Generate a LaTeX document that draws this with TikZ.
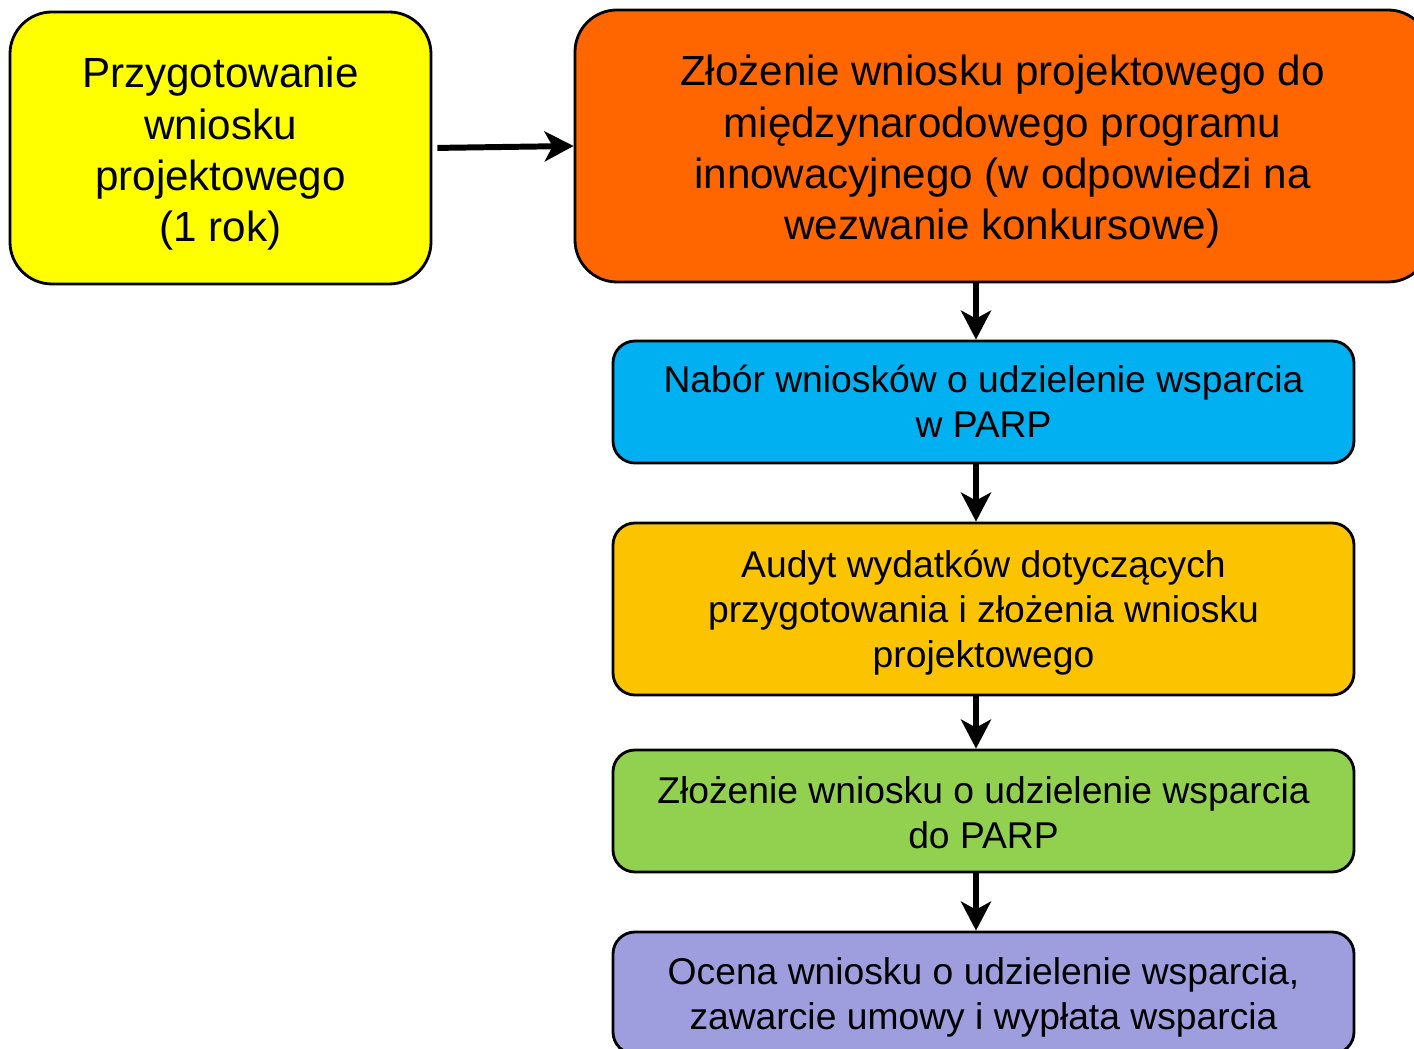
\documentclass[tikz,border=0pt]{standalone}
\usepackage{fontspec}
\setmainfont{Liberation Sans}
\usetikzlibrary{arrows.meta}
\definecolor{cyellow}{HTML}{FFFF00}
\definecolor{corange}{HTML}{FF6600}
\definecolor{cblue}{HTML}{00B0F0}
\definecolor{cgold}{HTML}{FCC400}
\definecolor{cgreen}{HTML}{92D050}
\definecolor{cpurple}{HTML}{9E9EDE}
\tikzset{
  bigbox/.style={draw=black, line width=0.8pt, rounded corners=0.42cm, inner sep=0pt},
  smallbox/.style={draw=black, line width=0.8pt, rounded corners=0.22cm, inner sep=0pt,
    minimum width=7.41cm},
  bigtext/.style={inner sep=0pt, align=center, yshift=-0.06cm, font=\fontsize{12pt}{14.6pt}\selectfont},
  smalltext/.style={inner sep=0pt, align=center, yshift=-0.04cm, font=\fontsize{10.6pt}{12.8pt}\selectfont},
  flow/.style={line width=1.7pt, -{Stealth[length=0.29cm,width=0.3cm,inset=0.08cm]}}
}
\begin{document}
\begin{tikzpicture}
\useasboundingbox (0,0) rectangle (14.14,-10.49);
\clip (0,0) rectangle (14.14,-10.49);
\node[bigbox, fill=cyellow, minimum width=4.21cm, minimum height=2.72cm] (prep) at (2.205,-1.48) {};
\node[bigtext] (prepT) at (prep) {Przygotowanie\\wniosku\\projektowego\\(1 rok)};
\node[bigbox, fill=corange, minimum width=8.55cm, minimum height=2.72cm] (zloz) at (10.025,-1.46) {};
\node[bigtext] (zlozT) at (zloz)
  {Złożenie wniosku projektowego do\\międzynarodowego programu\\innowacyjnego (w odpowiedzi na\\wezwanie konkursowe)};
\node[smallbox, fill=cblue, minimum height=1.22cm] (nabor) at (9.835,-4.02) {};
\node[smalltext, yshift=0.045cm] (naborT) at (nabor) {Nabór wniosków o udzielenie wsparcia\\w PARP};
\node[smallbox, fill=cgold, minimum height=1.72cm] (audyt) at (9.835,-6.09) {};
\node[smalltext] (audytT) at (audyt)
  {Audyt wydatków dotyczących\\przygotowania i złożenia wniosku\\projektowego};
\node[smallbox, fill=cgreen, minimum height=1.22cm] (wsp) at (9.835,-8.11) {};
\node[smalltext, yshift=0.025cm] (wspT) at (wsp) {Złożenie wniosku o udzielenie wsparcia\\do PARP};
\node[smallbox, fill=cpurple, minimum height=1.22cm] (ocena) at (9.835,-9.93) {};
\node[smalltext] (ocenaT) at (ocena) {Ocena wniosku o udzielenie wsparcia,\\zawarcie umowy i wypłata wsparcia};
\coordinate (ax) at (9.76,0);
\draw[flow, shorten <=0.05cm] (prep.east) -- (zloz.west);
\draw[flow] (zloz.south -| ax) -- (nabor.north -| ax);
\draw[flow] (nabor.south -| ax) -- (audyt.north -| ax);
\draw[flow] (audyt.south -| ax) -- (wsp.north -| ax);
\draw[flow] (wsp.south -| ax) -- (ocena.north -| ax);
\end{tikzpicture}
\end{document}
